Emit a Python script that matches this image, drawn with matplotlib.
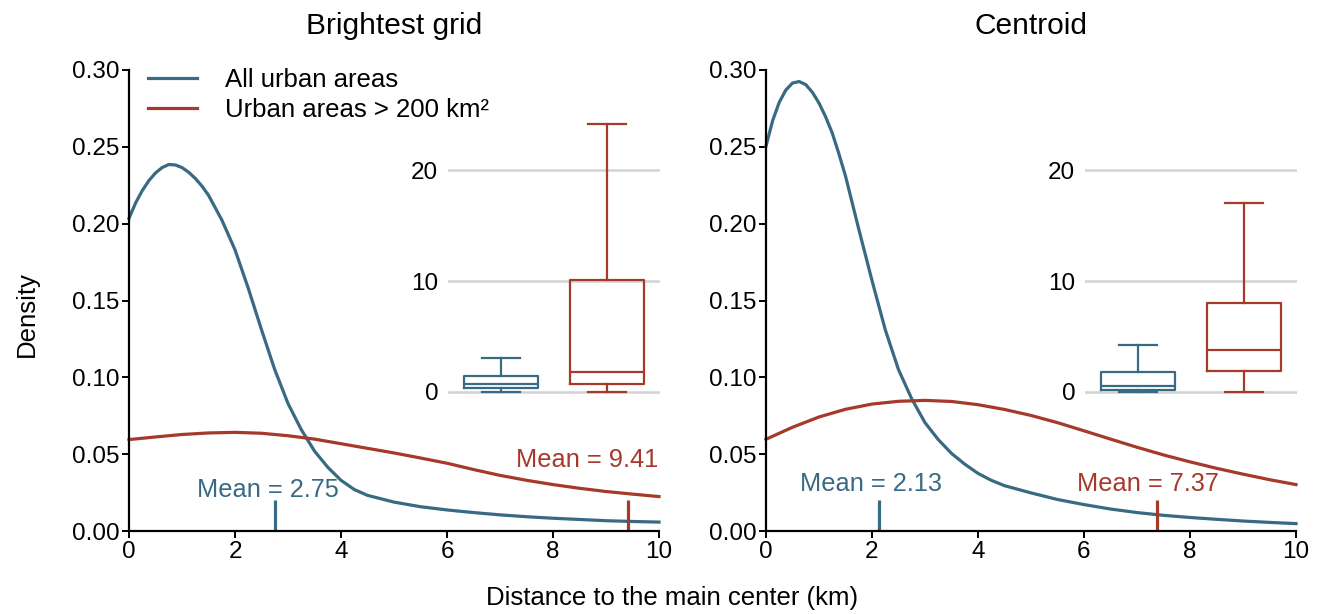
import matplotlib
matplotlib.use("Agg")
import matplotlib.pyplot as plt
import numpy as np

plt.rcParams['font.family'] = ['Liberation Sans', 'DejaVu Sans']

BLUE = '#386a84'
RED = '#a5392a'

# --- density curves (distance in km, density) ---
x_fine = [0, 0.125, 0.25, 0.375, 0.5, 0.625, 0.75, 0.875, 1, 1.125, 1.25,
          1.375, 1.5, 1.75, 2, 2.25, 2.5, 2.75, 3, 3.25, 3.5, 3.75, 4, 4.25,
          4.5, 5, 5.5, 6, 6.5, 7, 7.5, 8, 8.5, 9, 9.5, 10]
x_coarse = [0, 0.5, 1, 1.5, 2, 2.5, 3, 3.5, 4, 4.5, 5, 5.5, 6, 6.5, 7,
            7.5, 8, 8.5, 9, 9.5, 10]

bright_all = [0.2035, 0.2135, 0.2215, 0.228, 0.233, 0.2365, 0.2385, 0.2382,
              0.2365, 0.2335, 0.2295, 0.2245, 0.2185, 0.2025, 0.183, 0.158,
              0.131, 0.105, 0.083, 0.066, 0.052, 0.0415, 0.033, 0.027, 0.0232,
              0.0188, 0.0158, 0.0137, 0.012, 0.0105, 0.0093, 0.0083, 0.0075,
              0.0067, 0.0062, 0.0058]
bright_big = [0.0595, 0.0612, 0.0628, 0.0638, 0.0642, 0.0636, 0.062, 0.0598,
              0.0568, 0.0538, 0.0508, 0.0475, 0.0441, 0.040, 0.0362, 0.033,
              0.0302, 0.0278, 0.0257, 0.024, 0.0224]

centroid_all = [0.2505, 0.267, 0.279, 0.287, 0.2915, 0.2925, 0.2905, 0.2855,
                0.2785, 0.2695, 0.259, 0.2455, 0.231, 0.1965, 0.163, 0.131,
                0.105, 0.086, 0.0705, 0.0595, 0.0505, 0.0435, 0.0375, 0.033,
                0.0295, 0.0248, 0.0205, 0.0172, 0.0143, 0.012, 0.0102, 0.0088,
                0.0076, 0.0065, 0.0056, 0.0048]
centroid_big = [0.0597, 0.0675, 0.0742, 0.0792, 0.0826, 0.0844, 0.085, 0.0843,
                0.0822, 0.0791, 0.0752, 0.0705, 0.0652, 0.0598, 0.0545, 0.0495,
                0.045, 0.0408, 0.037, 0.0334, 0.0302]

# means
bright_means = [2.75, 9.41]
centroid_means = [2.13, 7.37]

# boxplot stats: [whislo, q1, med, q3, whishi]
bright_box_all = [0.0, 0.36, 0.7, 1.45, 3.1]
bright_box_big = [0.0, 0.7, 1.78, 10.07, 24.2]
centroid_box_all = [0.0, 0.2, 0.57, 1.8, 4.25]
centroid_box_big = [0.0, 1.85, 3.78, 8.0, 17.1]

titles = ['Brightest grid', 'Centroid']
legend_labels = ['All urban areas', 'Urban areas > 200 km²']

W, H = 1322, 614
fig = plt.figure(figsize=(W / 100, H / 100), dpi=100)

panels = [
    dict(left=129, curves=(bright_all, bright_big), means=bright_means,
         boxes=(bright_box_all, bright_box_big),
         mean_txt=[(2.63, 0.0267, 'center'), (9.98, 0.0462, 'right')]),
    dict(left=766, curves=(centroid_all, centroid_big), means=centroid_means,
         boxes=(centroid_box_all, centroid_box_big),
         mean_txt=[(1.98, 0.0306, 'center'), (7.21, 0.0306, 'center')]),
]

for i, p in enumerate(panels):
    ax = fig.add_axes([p['left'] / W, (H - 531) / H, 530 / W, 461 / H])
    a, b = p['curves']
    ax.plot(x_fine, a, color=BLUE, lw=2.3, label=legend_labels[0],
            solid_joinstyle='round', clip_on=False)
    ax.plot(x_coarse, b, color=RED, lw=2.3, label=legend_labels[1],
            solid_joinstyle='round', clip_on=False)
    for m, c in zip(p['means'], (BLUE, RED)):
        ax.plot([m, m], [0, 0.02], color=c, lw=2.3, solid_capstyle='butt')
    for (tx, ty, ha), m, c in zip(p['mean_txt'], p['means'], (BLUE, RED)):
        ax.text(tx, ty, f'Mean = {m:.2f}', color=c, fontsize=18.3,
                ha=ha, va='center')

    ax.set_xlim(0, 10)
    ax.set_ylim(0, 0.30)
    ax.set_xticks(np.arange(0, 11, 2))
    ax.set_yticks(np.arange(0, 0.31, 0.05))
    ax.set_yticklabels([f'{v:.2f}' for v in np.arange(0, 0.31, 0.05)])
    for s in ('top', 'right'):
        ax.spines[s].set_visible(False)
    for s in ('left', 'bottom'):
        ax.spines[s].set_linewidth(1.6)
    ax.tick_params(labelsize=17.5, length=5, width=1.4, pad=2)
    ax.set_title(titles[i], fontsize=21.5, pad=26)

    if i == 0:
        ax.legend(loc='upper left', bbox_to_anchor=(19 / 530, 1.004),
                  frameon=False, fontsize=18.5, handlelength=1.9,
                  handletextpad=1.1, labelspacing=0.23, borderpad=0,
                  borderaxespad=0)

    # inset boxplot
    ins = fig.add_axes([(p['left'] + 319) / W, (H - 403) / H, 212 / W, 288 / H])
    stats = []
    for bx in p['boxes']:
        stats.append(dict(whislo=bx[0], q1=bx[1], med=bx[2], q3=bx[3],
                          whishi=bx[4], fliers=[]))
    parts = ins.bxp(stats, positions=[1, 2], widths=0.7, capwidths=0.35,
                    showfliers=False, patch_artist=False)
    for k, c in enumerate((BLUE, RED)):
        parts['boxes'][k].set(color=c, lw=1.6)
        parts['medians'][k].set(color=c, lw=1.6)
        for w in parts['whiskers'][2 * k:2 * k + 2]:
            w.set(color=c, lw=1.6)
        for cp in parts['caps'][2 * k:2 * k + 2]:
            cp.set(color=c, lw=1.6)
    ins.set_xlim(0.5, 2.5)
    ins.set_ylim(-1, 25)
    ins.set_yticks([0, 10, 20])
    ins.set_xticks([])
    ins.yaxis.grid(True, color='#d3d3d3', lw=1.8)
    ins.set_axisbelow(True)
    for s in ins.spines.values():
        s.set_visible(False)
    ins.tick_params(axis='y', length=0, labelsize=17.5, pad=7)
    ins.patch.set_alpha(0)

fig.text(672 / W, 1 - 598 / H, 'Distance to the main center (km)',
         fontsize=18.5, ha='center', va='center')
fig.text(27 / W, 1 - 314 / H, 'Density', fontsize=18.5, rotation=90,
         ha='center', va='center')

fig.savefig('out.png', dpi=100)
